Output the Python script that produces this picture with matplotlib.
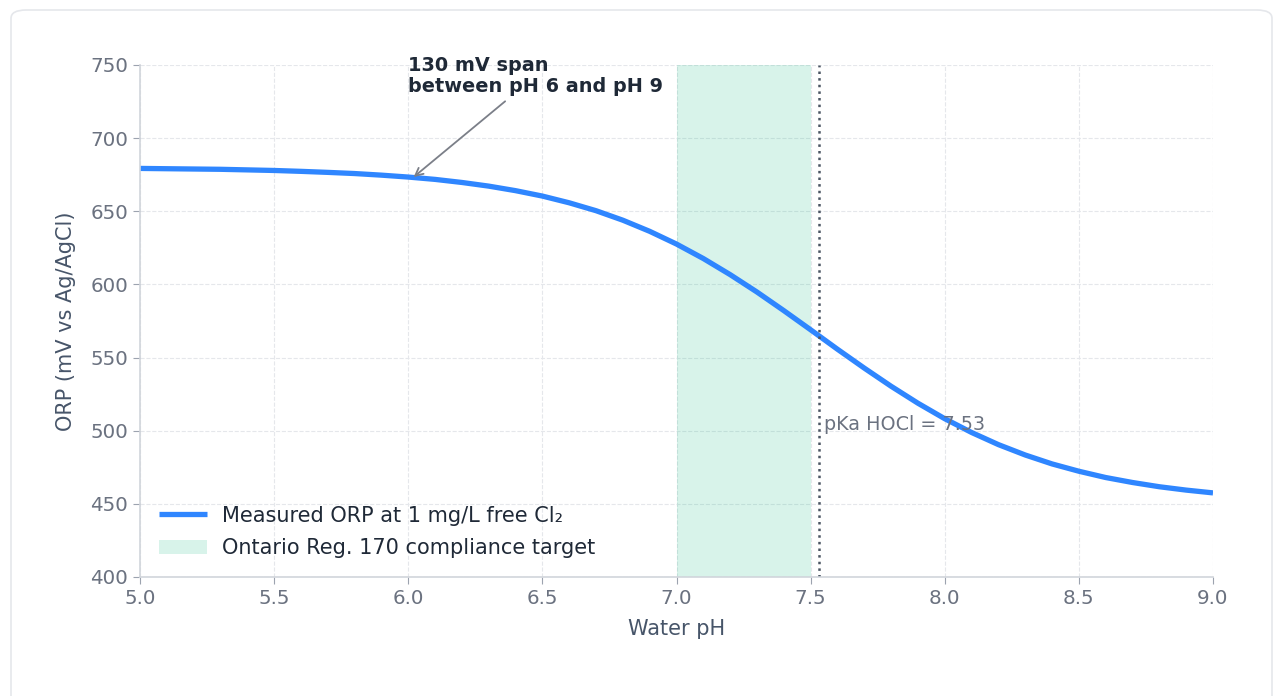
import numpy as np
import matplotlib.pyplot as plt
from matplotlib.patches import FancyBboxPatch

# ORP readings (mV vs Ag/AgCl)
ph = [5.0, 5.1, 5.2, 5.3, 5.4, 5.5, 5.6, 5.7, 5.8, 5.9,
      6.0, 6.1, 6.2, 6.3, 6.4, 6.5, 6.6, 6.7, 6.8, 6.9,
      7.0, 7.1, 7.2, 7.3, 7.4, 7.5, 7.6, 7.7, 7.8, 7.9,
      8.0, 8.1, 8.2, 8.3, 8.4, 8.5, 8.6, 8.7, 8.8, 8.9, 9.0]
orp = [679.3, 679.1, 678.9, 678.7, 678.3, 677.9, 677.3, 676.6, 675.8, 674.7,
       673.4, 671.8, 669.7, 667.2, 664.1, 660.4, 655.8, 650.4, 643.9, 636.3,
       627.6, 617.7, 606.7, 594.8, 582.1, 569.0, 555.7, 542.8, 530.4, 518.8,
       508.2, 498.8, 490.5, 483.4, 477.3, 472.3, 468.0, 464.6, 461.7, 459.4, 457.5]

target_lo, target_hi = 7.0, 7.5
pka = 7.53
arrow_ph, arrow_orp = 6.02, 673.4

blue = '#2f86ff'
mint = '#10b981'
tick_col = '#6b7280'
label_col = '#475569'
text_dark = '#1f2937'

fig = plt.figure(figsize=(12.74, 6.96), dpi=100)
card = FancyBboxPatch((11/1274, -20/696), 1261/1274, 706/696,
                      boxstyle='round,pad=0,rounding_size=0.012',
                      transform=fig.transFigure, facecolor='white',
                      edgecolor='#e5e7eb', linewidth=1.2, zorder=-10)
fig.patches.append(card)
ax = fig.add_axes([140/1274, 1-577/696, 1073/1274, 512/696])
ax.set_facecolor('none')

ax.axvspan(target_lo, target_hi, color=mint, alpha=0.16, lw=0,
           label='Ontario Reg. 170 compliance target')
ax.plot(ph, orp, color=blue, lw=3.8, label='Measured ORP at 1 mg/L free Cl\u2082',
        solid_capstyle='butt')
ax.axvline(pka, color='#4b5563', ls=':', lw=1.8)
ax.text(pka + 0.02, 497.5, 'pKa HOCl = 7.53', color=tick_col, fontsize=13.8,
        ha='left', va='bottom')

ax.annotate('130 mV span\nbetween pH 6 and pH 9', xy=(arrow_ph, arrow_orp),
            xytext=(6.0, 742.5), ha='left', va='center', fontsize=13.9,
            fontweight='bold', color=text_dark, linespacing=1.12,
            arrowprops=dict(arrowstyle='->', color='#7b7f88', lw=1.3,
                            shrinkA=3, shrinkB=0))

ax.set_xlim(5, 9)
ax.set_ylim(400, 750)
ax.set_xticks(np.arange(5, 9.01, 0.5))
ax.set_yticks(np.arange(400, 751, 50))
ax.grid(True, ls='--', color='#e5e7eb', lw=0.8)
ax.set_axisbelow(True)
for s in ['top', 'right']:
    ax.spines[s].set_visible(False)
for s in ['left', 'bottom']:
    ax.spines[s].set_color('#d1d5db')
    ax.spines[s].set_linewidth(1.2)
ax.tick_params(colors='#9ca3af', labelcolor=tick_col, labelsize=14.3, length=5)
ax.set_xlabel('Water pH', fontsize=15, color=label_col, labelpad=8)
ax.set_ylabel('ORP (mV vs Ag/AgCl)', fontsize=15, color=label_col, labelpad=10)

# legend: line first, then the shaded band
h, l = ax.get_legend_handles_labels()
leg = ax.legend(h[::-1], l[::-1], loc='lower left', frameon=False, fontsize=15,
                handlelength=2.3, borderaxespad=0.5, labelspacing=0.6,
                handletextpad=0.75)
for t in leg.get_texts():
    t.set_color(text_dark)

fig.savefig('out.png', dpi=100)
